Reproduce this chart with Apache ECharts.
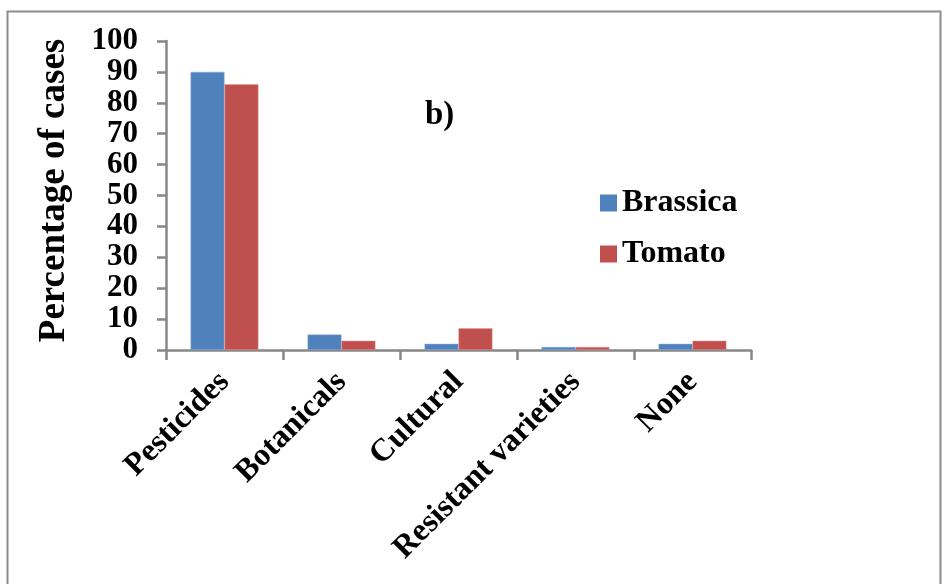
<!DOCTYPE html>
<html>
<head>
<meta charset="utf-8">
<script src="https://cdn.jsdelivr.net/npm/echarts@6/dist/echarts.min.js"></script>
<style>
html,body{margin:0;padding:0;background:#fff;}
#c{width:949px;height:584px;}
</style>
</head>
<body>
<div id="c"></div>
<script>
var categories = ['Pesticides', 'Botanicals', 'Cultural', 'Resistant varieties', 'None'];
var brassica = [90, 5, 2, 1, 2];
var tomato = [86, 3, 7, 1, 3];
var yTicks = [0, 10, 20, 30, 40, 50, 60, 70, 80, 90, 100];

var chart = echarts.init(document.getElementById('c'), null, {renderer: 'canvas'});
var font = '"Liberation Serif", "Times New Roman", serif';
var axisGray = '#878787';
chart.setOption({
  animation: false,
  backgroundColor: '#fff',
  graphic: [
    {type: 'rect', shape: {x: 7.5, y: 11.5, width: 933, height: 600}, style: {fill: 'none', stroke: '#8c8c8c', lineWidth: 2}, z: -1},
    {type: 'text', left: 425, top: 99, style: {text: 'b)', font: 'bold 33px ' + font, fill: '#000'}}
  ],
  legend: {
    left: 595, top: 182, orient: 'vertical', itemGap: 19,
    itemWidth: 17, itemHeight: 17, icon: 'rect',
    itemStyle: {borderWidth: 0},
    textStyle: {fontFamily: font, fontWeight: 'bold', fontSize: 32, color: '#000'},
    data: ['Brassica', 'Tomato']
  },
  grid: {left: 166, right: 198, top: 41, bottom: 234, containLabel: false},
  xAxis: {
    type: 'category',
    data: categories,
    axisLine: {lineStyle: {color: axisGray, width: 2.5}},
    axisTick: {show: true, length: 10, lineStyle: {color: axisGray, width: 2.5}, alignWithLabel: false},
    axisLabel: {rotate: 45, margin: 27, interval: 0, fontFamily: font, fontWeight: 'bold', fontSize: 32, color: '#000'}
  },
  yAxis: {
    type: 'value', min: 0, max: 100, interval: 10,
    name: 'Percentage of cases', nameLocation: 'middle', nameGap: 93,
    nameTextStyle: {fontFamily: font, fontWeight: 'bold', fontSize: 37, color: '#000', padding: [0, 0, 0, 10]},
    axisLine: {show: true, lineStyle: {color: axisGray, width: 2.5}},
    axisTick: {show: true, length: 9, lineStyle: {color: axisGray, width: 2.5}},
    splitLine: {show: false},
    axisLabel: {margin: 28, fontFamily: font, fontWeight: 'bold', fontSize: 31, color: '#000',
      formatter: function (v) { return yTicks.indexOf(v) >= 0 ? String(v) : ''; }}
  },
  series: [
    {name: 'Brassica', type: 'bar', data: brassica, barGap: '0%', barCategoryGap: '42%',
      itemStyle: {color: '#4F81BD', borderColor: '#8fb0dc', borderWidth: 0.5}},
    {name: 'Tomato', type: 'bar', data: tomato,
      itemStyle: {color: '#C0504D', borderColor: '#e09a98', borderWidth: 0.5}}
  ]
});
</script>
</body>
</html>
